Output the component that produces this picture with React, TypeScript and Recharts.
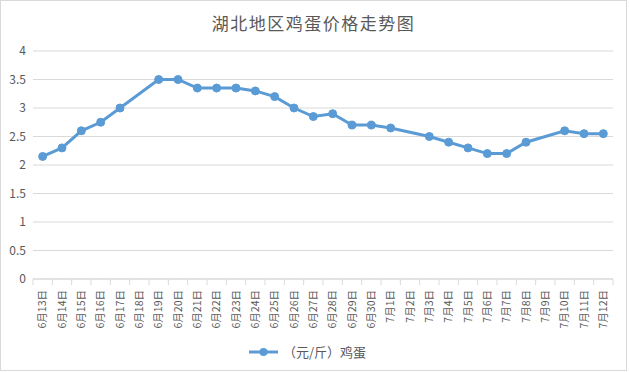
import React from "react";
import { LineChart, Line, XAxis, YAxis, CartesianGrid, Legend } from "recharts";

const DATES = [
  "6月13日", "6月14日", "6月15日", "6月16日", "6月17日", "6月18日", "6月19日", "6月20日",
  "6月21日", "6月22日", "6月23日", "6月24日", "6月25日", "6月26日", "6月27日", "6月28日",
  "6月29日", "6月30日", "7月1日", "7月2日", "7月3日", "7月4日", "7月5日", "7月6日",
  "7月7日", "7月8日", "7月9日", "7月10日", "7月11日", "7月12日",
];
const EGG_PRICES: (number | null)[] = [
  2.15, 2.3, 2.6, 2.75, 3.0, null, 3.5, 3.5,
  3.35, 3.35, 3.35, 3.3, 3.2, 3.0, 2.85, 2.9,
  2.7, 2.7, 2.65, null, 2.5, 2.4, 2.3, 2.2,
  2.2, 2.4, null, 2.6, 2.55, 2.55,
];
const Y_TICKS = [0, 0.5, 1, 1.5, 2, 2.5, 3, 3.5, 4];

const SERIES_NAME = "（元/斤）鸡蛋";
const TITLE = "湖北地区鸡蛋价格走势图";

const FONT = '"Noto Sans CJK SC", "Microsoft YaHei", sans-serif';
const TEXT = "#595959";
const BLUE = "#5b9bd5";
const GRID = "#d9d9d9";

const data = DATES.map((d, i) => ({ date: d, price: EGG_PRICES[i] }));

const W = 625;
const H = 369;
const PLOT_LEFT = 32;
const PLOT_RIGHT = 612;
const BAND = (PLOT_RIGHT - PLOT_LEFT) / DATES.length;

function DateTick(props: any) {
  const { x, y, payload, index } = props;
  const half = BAND / 2;
  return (
    <g>
      <line x1={x - half} y1={y - 8} x2={x - half} y2={y - 2} stroke={GRID} />
      {index === DATES.length - 1 && (
        <line x1={x + half} y1={y - 8} x2={x + half} y2={y - 2} stroke={GRID} />
      )}
      <text
        transform={`translate(${x},${y + 3}) rotate(-90)`}
        textAnchor="end"
        dy="0.35em"
        fontSize={10.5}
        fill={TEXT}
        fontFamily={FONT}
      >
        {payload.value}
      </text>
    </g>
  );
}

function ValueTick(props: any) {
  const { x, y, payload } = props;
  return (
    <text x={x} y={y} dy="0.35em" textAnchor="end" fontSize={12} fill={TEXT} fontFamily={FONT}>
      {payload.value}
    </text>
  );
}

function LegendBox() {
  return (
    <div
      style={{
        height: 41,
        paddingTop: 4,
        boxSizing: "border-box",
        display: "flex",
        alignItems: "center",
        justifyContent: "center",
        fontFamily: FONT,
        fontSize: 13,
        color: TEXT,
      }}
    >
      <svg width={32} height={10} style={{ marginRight: 3 }}>
        <line x1={1} y1={5} x2={30} y2={5} stroke={BLUE} strokeWidth={3} />
        <circle cx={15.5} cy={5} r={4} fill={BLUE} />
      </svg>
      <span>{SERIES_NAME}</span>
    </div>
  );
}

export default function App() {
  return (
    <div
      style={{
        position: "absolute",
        left: 0,
        top: 0,
        width: 627,
        height: 371,
        border: `1px solid ${GRID}`,
        boxSizing: "border-box",
        background: "#fff",
      }}
    >
      <div
        style={{
          position: "absolute",
          top: 9,
          left: 0,
          width: W,
          textAlign: "center",
          fontFamily: FONT,
          fontSize: 17,
          letterSpacing: 1.5,
          color: TEXT,
        }}
      >
        {TITLE}
      </div>
      <LineChart
        width={W}
        height={H}
        data={data}
        margin={{ top: 50, right: W - PLOT_RIGHT, bottom: 0, left: 0 }}
      >
        <CartesianGrid vertical={false} stroke={GRID} />
        <XAxis
          dataKey="date"
          scale="band"
          interval={0}
          height={50}
          tickLine={false}
          axisLine={{ stroke: GRID }}
          tick={<DateTick />}
        />
        <YAxis
          width={PLOT_LEFT}
          domain={[0, 4]}
          ticks={Y_TICKS}
          axisLine={false}
          tickLine={false}
          tickSize={0}
          tickMargin={7}
          tick={<ValueTick />}
        />
        <Legend verticalAlign="bottom" content={<LegendBox />} />
        <Line
          type="linear"
          dataKey="price"
          name={SERIES_NAME}
          stroke={BLUE}
          strokeWidth={3}
          connectNulls
          dot={{ r: 4, fill: BLUE, stroke: BLUE, strokeWidth: 1 }}
          isAnimationActive={false}
        />
      </LineChart>
    </div>
  );
}
